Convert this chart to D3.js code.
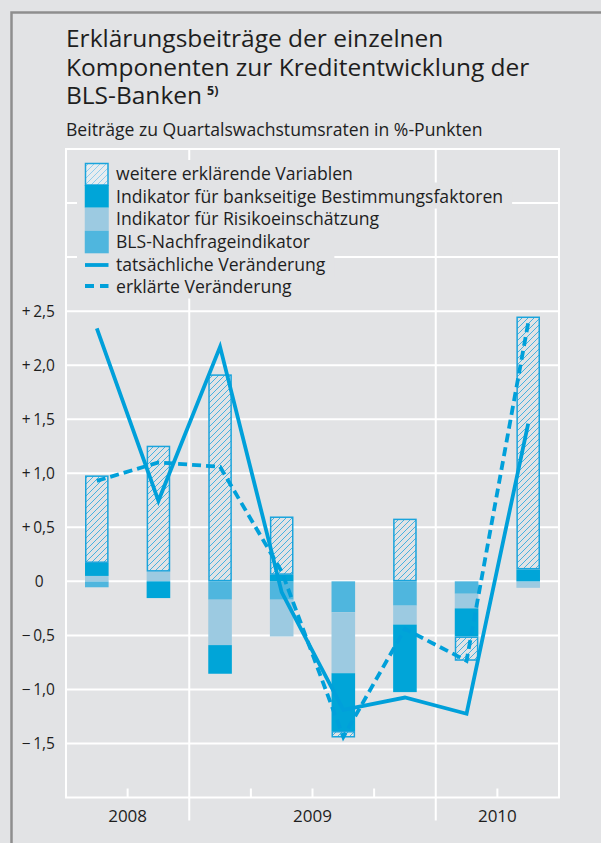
<!DOCTYPE html>
<html><head><meta charset="utf-8">
<script src="https://cdn.jsdelivr.net/npm/d3@7"></script>
<style>
html,body{margin:0;padding:0;background:#e2e3e5;}
svg{display:block;font-family:"Open Sans",sans-serif;}
</style></head>
<body>
<svg id="c" width="601" height="843"></svg>
<script>
// ---- data ----
const quarters = ["2008 Q3","2008 Q4","2009 Q1","2009 Q2","2009 Q3","2009 Q4","2010 Q1","2010 Q2"];
const years = ["2008","2009","2010"];
const yearOfQuarter = ["2008","2008","2009","2009","2009","2009","2010","2010"];
const demand = [-0.055, 0.0, -0.17, -0.17, -0.285, -0.225, -0.115, 0.0];
const risk   = [0.05, 0.09, -0.42, -0.34, -0.565, -0.175, -0.135, -0.06];
const bank   = [0.12, -0.155, -0.265, 0.06, -0.535, -0.625, -0.26, 0.11];
const other  = [0.81, 1.165, 1.915, 0.54, -0.06, 0.58, -0.225, 2.34];
const actual    = [2.34, 0.745, 2.17, -0.1, -1.19, -1.075, -1.225, 1.46];
const explained = [0.93, 1.10, 1.06, 0.09, -1.44, -0.44, -0.735, 2.39];
const yTicks = [-1.5,-1.0,-0.5,0,0.5,1.0,1.5,2.0,2.5];
const yTickLabels = ["\u2212\u20091,5","\u2212\u20091,0","\u2212\u20090,5","0","+\u20090,5","+\u20091,0","+\u20091,5","+\u20092,0","+\u20092,5"];
const gridValues = [-1.5,-1.0,-0.5,0,0.5,1.0,1.5,2.0,2.5,3.0,3.5];
const titleLines = ["Erklärungsbeiträge der einzelnen","Komponenten zur Kreditentwicklung der","BLS-Banken"];
const legendLabels = ["weitere erklärende Variablen","Indikator für bankseitige Bestimmungsfaktoren","Indikator für Risikoeinschätzung","BLS-Nachfrageindikator","tatsächliche Veränderung","erklärte Veränderung"];

// ---- setup ----
const BG = "#e2e3e5";
const TXT = "#1e1e1e";
const C_BANK = "#00a5d8", C_DEM = "#4fb6de", C_RISK = "#9ccae1", C_LINE = "#00a0da", C_HATCH = "#1aa4dc";
const svg = d3.select("#c");
const defs = svg.append("defs");
function hatch(id, color, fill, w){
  const p = defs.append("pattern").attr("id", id).attr("patternUnits","userSpaceOnUse").attr("width",6).attr("height",6);
  p.append("rect").attr("width",6).attr("height",6).attr("fill",fill);
  p.append("path").attr("d","M-1.5,1.5L1.5,-1.5M0,6L6,0M4.5,7.5L7.5,4.5").attr("stroke",color).attr("stroke-width",w);
}
hatch("hatch", "#2aa8de", BG, 0.85);
hatch("hatchL", "#8fcdee", "#e8ecef", 1.0);

svg.append("rect").attr("width",601).attr("height",843).attr("fill",BG);
svg.append("path").attr("d","M11.5,850V12.5H610").attr("fill","none").attr("stroke","#8e8e8e").attr("stroke-width",2.5);

// titles (one text element per line)
const titleG = svg.append("g").attr("fill",TXT).attr("font-size",24.5);
titleG.selectAll("text").data(titleLines).join("text")
  .attr("x",66).attr("y",(d,i)=>47+i*28.5).text(d=>d)
  .filter((d,i)=>i===2).append("tspan").attr("dx",5).attr("dy",-9).attr("font-size",12.5).attr("font-weight","bold").text("5)");
svg.append("text").attr("x",66).attr("y",136).attr("fill",TXT).attr("font-size",17.6).text("Beiträge zu Quartalswachstumsraten in %-Punkten");

// scales
const pLeft = 66, pRight = 559, pTop = 149, pBottom = 797.5;
const x = d3.scaleBand().domain(quarters).range([pLeft,pRight]).paddingInner(0.617).paddingOuter(0.3085);
const y = d3.scaleLinear().domain([-2,4]).range([pBottom,pTop]);
const step = x.step();

// grid
const grid = svg.append("g").attr("stroke","#fff").attr("stroke-width",2);
grid.selectAll("line.h").data(gridValues).join("line")
  .attr("x1",pLeft).attr("x2",pRight).attr("y1",d=>y(d)).attr("y2",d=>y(d));
grid.append("line").attr("x1",pLeft-1).attr("x2",pRight+1).attr("y1",pTop).attr("y2",pTop);
grid.append("line").attr("x1",pLeft).attr("x2",pLeft).attr("y1",pTop).attr("y2",pBottom);
grid.append("line").attr("x1",pRight).attr("x2",pRight).attr("y1",pTop).attr("y2",pBottom);
grid.append("line").attr("x1",pLeft-1).attr("x2",pRight+1).attr("y1",pBottom).attr("y2",pBottom);
const bounds = d3.range(1, quarters.length);
grid.selectAll("line.q").data(bounds).join("line")
  .attr("x1",i=>pLeft+i*step).attr("x2",i=>pLeft+i*step)
  .attr("y1",i=> yearOfQuarter[i]!==yearOfQuarter[i-1] ? pTop : pBottom-9)
  .attr("y2",i=> yearOfQuarter[i]!==yearOfQuarter[i-1] ? pBottom+23 : pBottom);

// y labels
svg.append("g").selectAll("text").data(yTicks).join("text")
  .attr("x",d=> d===0 ? 43.5 : 55).attr("y",d=>y(d)+5.5).attr("text-anchor","end")
  .attr("font-size",15.5).attr("fill",TXT).text((d,i)=>yTickLabels[i]);
// year labels
svg.append("g").selectAll("text").data(years).join("text")
  .attr("x",yr=>{const idx=quarters.map((q,i)=>i).filter(i=>yearOfQuarter[i]===yr); return pLeft+step*(d3.min(idx)+d3.max(idx)+1)/2;})
  .attr("y",822).attr("text-anchor","middle").attr("font-size",17).attr("fill",TXT).text(d=>d);

// legend
const lg = svg.append("g");
const rowY = [174, 196.5, 219, 241.5, 264.5, 286.5];
const lgText = lg.append("g");
const texts = lgText.selectAll("text").data(legendLabels).join("text")
  .attr("x",116).attr("y",(d,i)=>rowY[i]+6).attr("font-size",17.6).attr("fill",TXT).text(d=>d);
texts.each(function(d,i){
  const w = this.getComputedTextLength();
  lg.insert("rect",":first-child").attr("x",77).attr("y",rowY[i]-14).attr("width",116+w+9-77).attr("height",26).attr("fill",BG);
});
lg.append("rect").attr("x",85.5).attr("y",163.5).attr("width",22.5).attr("height",21.5).attr("fill","url(#hatchL)").attr("stroke",C_HATCH).attr("stroke-width",1.5);
lg.append("rect").attr("x",84.75).attr("y",185).attr("width",24).attr("height",22.7).attr("fill",C_BANK);
lg.append("rect").attr("x",84.75).attr("y",207.7).attr("width",24).attr("height",23).attr("fill",C_RISK);
lg.append("rect").attr("x",84.75).attr("y",230.7).attr("width",24).attr("height",22.6).attr("fill",C_DEM);
lg.append("line").attr("x1",85).attr("x2",108.5).attr("y1",265).attr("y2",265).attr("stroke",C_LINE).attr("stroke-width",3.8);
lg.append("line").attr("x1",85).attr("x2",108.5).attr("y1",286).attr("y2",286).attr("stroke",C_LINE).attr("stroke-width",3.8).attr("stroke-dasharray","9,6");

// bars
const rows = quarters.map((q,i)=>({q, demand:demand[i], risk:risk[i], bank:bank[i], other:other[i]}));
const keys = ["demand","risk","bank","other"];
const fills = {demand:C_DEM, risk:C_RISK, bank:C_BANK, other:"url(#hatch)"};
const series = d3.stack().keys(keys).offset(d3.stackOffsetDiverging)(rows);
const bars = svg.append("g");
series.forEach(s=>{
  const isO = s.key==="other";
  bars.append("g").selectAll("rect").data(s.filter(d=>d[1]!==d[0])).join("rect")
    .attr("x",d=> isO ? x(d.data.q)+0.75 : x(d.data.q))
    .attr("width",isO ? x.bandwidth()-1.5 : x.bandwidth())
    .attr("y",d=>y(Math.max(d[0],d[1])) + (isO?0.75:0))
    .attr("height",d=>Math.max(0.5,Math.abs(y(d[0])-y(d[1])) - (isO?1.5:0)))
    .attr("fill",fills[s.key])
    .attr("stroke",isO?C_HATCH:"none").attr("stroke-width",1.5);
});

// lines
const line = d3.line().x((d,i)=>x(quarters[i])+x.bandwidth()/2).y(d=>y(d));
svg.append("path").attr("d",line(explained)).attr("fill","none").attr("stroke",C_LINE).attr("stroke-width",3.8).attr("stroke-dasharray","9,5");
svg.append("path").attr("d",line(actual)).attr("fill","none").attr("stroke",C_LINE).attr("stroke-width",3.8).attr("stroke-linejoin","miter");
</script>
</body></html>
